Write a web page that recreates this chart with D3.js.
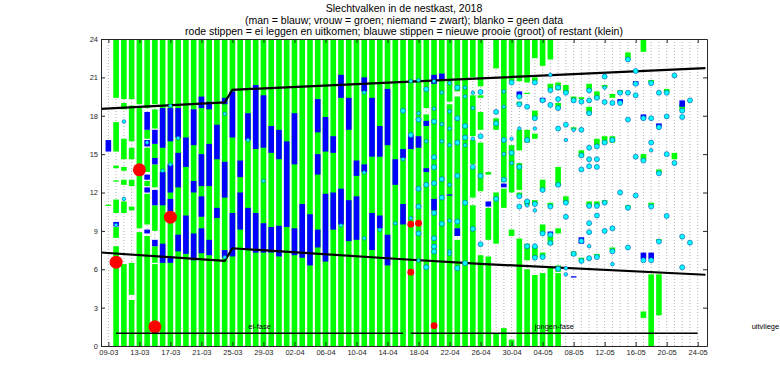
<!DOCTYPE html>
<html>
<head>
<meta charset="utf-8">
<script src="https://cdn.jsdelivr.net/npm/d3@7"></script>
<style>
  body { margin: 0; background: #fff; }
  text { font-family: "Liberation Sans", Arial, sans-serif; }
</style>
</head>
<body>
<div id="chart"></div>
<script>
// ---- data ----
var titel = [
  "Slechtvalken in de nestkast, 2018",
  "(man = blauw; vrouw = groen; niemand = zwart); blanko = geen data",
  "rode stippen = ei leggen en uitkomen; blauwe stippen = nieuwe prooie (groot) of restant (klein)"
];

var eersteDag = "09-03";
var laatsteDag = "24-05";

var tickDagen = ["09-03","13-03","17-03","21-03","25-03","29-03","02-04","06-04","10-04","14-04",
  "18-04","22-04","26-04","30-04","04-05","08-05","12-05","16-05","20-05","24-05"];
var uurTicks = [0, 3, 6, 9, 12, 15, 18, 21, 24];

// vrouw aanwezig (groen): [dag, van, tot]
var vrouw = [
  ["09-03",10.95,11.05],
  ["10-03",19.4,24],["10-03",15.2,17.5],["10-03",13.9,14.1],["10-03",12.85,12.95],["10-03",10.4,11.45],["10-03",8.45,9.3],["10-03",0,7.8],
  ["11-03",19.3,24],["11-03",18.5,19.0],["11-03",14.6,16.2],["11-03",13.7,14.0],["11-03",12.6,13.0],["11-03",10.4,11.3],["11-03",0,6.4],
  ["12-03",19.3,24],["12-03",16.0,18.8],["12-03",14.6,15.5],["12-03",12.5,13.0],["12-03",10.6,10.9],["12-03",4.0,6.5],["12-03",0,3.6],
  ["13-03",18.9,24],["13-03",9.2,18.6],["13-03",0,8.9],
  ["14-03",18.6,24],["14-03",16.2,16.9],["14-03",13.6,15.5],["14-03",12.5,12.9],["14-03",9.5,11.9],["14-03",0,8.6],
  ["15-03",18.9,24],["15-03",17.0,18.5],["15-03",14.7,15.8],["15-03",12.4,14.2],["15-03",9.0,11.0],["15-03",6.5,7.8],["15-03",0,6.4],
  ["16-03",0,24],["17-03",0,24],["18-03",0,24],["19-03",0,24],["20-03",0,24],["21-03",0,24],["22-03",0,24],
  ["23-03",0,24],["24-03",0,24],["25-03",0,24],["26-03",0,24],["27-03",0,24],["28-03",0,24],["29-03",0,24],
  ["30-03",0,24],["31-03",0,24],["01-04",0,24],["02-04",0,24],["03-04",0,24],["04-04",0,24],["05-04",0,24],
  ["06-04",0,24],["07-04",0,24],["08-04",0,24],["09-04",0,24],["10-04",0,24],["11-04",0,24],["12-04",0,24],
  ["13-04",0,24],["14-04",0,24],["15-04",0,24],["16-04",0,24],["17-04",0,24],["18-04",0,24],
  ["19-04",18.6,24],["19-04",0,18.1],
  ["20-04",0,24],["21-04",0,24],
  ["22-04",19.1,24],["22-04",0,18.9],
  ["23-04",19.9,24],["23-04",8.6,19.5],["23-04",0,8.3],
  ["24-04",0,24],
  ["25-04",21.0,24],["25-04",16.4,19.6],["25-04",14.2,16.1],["25-04",11.6,13.9],["25-04",0,11.0],
  ["26-04",20.3,24],["26-04",19.4,19.6],["26-04",16.9,18.3],["26-04",12.1,15.9],["26-04",0,7.1],
  ["27-04",13.4,13.6],["27-04",8.3,10.8],["27-04",0,7.0],
  ["28-04",21.7,24],["28-04",16.9,17.8],["28-04",8.0,12.0],["28-04",0,1.0],
  ["29-04",12.8,24],["29-04",10.8,12.3],["29-04",0,1.4],
  ["30-04",20.7,24],["30-04",12.0,15.7],["30-04",8.6,9.1],["30-04",0,0.5],
  ["01-05",20.7,24],["01-05",18.9,19.1],["01-05",15.3,16.9],["01-05",12.2,14.3],["01-05",11.7,12.0],["01-05",0,8.4],
  ["02-05",20.6,24],["02-05",19.7,19.8],["02-05",15.9,16.9],["02-05",11.0,11.4],["02-05",6.7,8.0],["02-05",0,6.0],
  ["03-05",22.5,24],["03-05",20.7,21.0],["03-05",17.8,18.4],["03-05",16.2,16.6],["03-05",11.1,11.4],["03-05",6.9,7.8],["03-05",0,5.55],
  ["04-05",21.9,24],["04-05",12.2,13.0],["04-05",8.8,9.5],["04-05",6.95,7.3],["04-05",0,5.7],
  ["05-05",22.4,24],["05-05",20.1,20.5],["05-05",10.9,11.2],["05-05",7.9,8.8],["05-05",0,6.1],
  ["06-05",20.0,20.6],["06-05",18.6,19.0],["06-05",12.5,14.0],["06-05",8.8,9.2],["06-05",5.8,6.3],["06-05",0,5.7],
  ["07-05",19.8,20.4],["07-05",11.2,11.7],
  ["08-05",19.2,19.5],["08-05",16.9,17.1],["08-05",7.05,7.4],
  ["09-05",19.3,19.45],["09-05",14.8,15.3],["09-05",6.65,6.9],
  ["10-05",20.0,20.5],["10-05",18.2,18.7],["10-05",10.9,11.3],
  ["11-05",19.3,19.9],["11-05",15.7,16.2],["11-05",10.95,11.3],["11-05",6.95,7.2],
  ["12-05",20.2,20.4],["12-05",15.8,16.4],["12-05",11.2,11.4],
  ["13-05",19.4,19.7],["13-05",15.9,16.4],["13-05",7.4,7.7],
  ["14-05",19.8,20.0],
  ["15-05",22.4,22.95],["15-05",10.8,11.0],
  ["17-05",23.0,24],["17-05",14.5,15.0],["17-05",2.2,2.7],
  ["18-05",20.55,20.8],["18-05",10.9,11.2],["18-05",0,5.6],
  ["19-05",13.5,13.8],["19-05",8.2,8.35],["19-05",2.4,5.6],
  ["20-05",19.8,20.1],
  ["21-05",14.6,15.1],
  ["22-05",18.4,18.9]
];

// man aanwezig (blauw): [dag, van, tot]
var man = [
  ["09-03",15.2,16.1],["10-03",9.35,9.7],
  ["14-03",16.9,18.3],["14-03",15.6,16.1],["14-03",13.0,13.4],["14-03",12.0,12.4],["14-03",8.8,9.1],
  ["15-03",15.8,16.9],["15-03",14.2,14.7],["15-03",11.0,12.2],["15-03",7.8,8.3],
  ["16-03",15.5,18.6],["16-03",11.0,13.6],["16-03",6.5,8.0],
  ["17-03",16.0,18.6],["17-03",12.0,14.2],["17-03",10.0,11.5],["17-03",6.5,7.0],
  ["18-03",16.3,18.6],["18-03",12.4,15.1],["18-03",7.4,8.7],
  ["19-03",14.0,16.3],["19-03",7.2,10.2],
  ["20-03",15.7,18.5],["20-03",12.0,12.9],["20-03",6.7,8.8],
  ["21-03",18.6,19.5],["21-03",12.5,15.0],["21-03",10.1,11.7],["21-03",7.25,9.2],
  ["22-03",18.5,19.1],["22-03",12.5,15.8],["22-03",7.1,8.3],
  ["23-03",14.6,17.3],["23-03",10.0,10.8],
  ["24-03",18.9,19.4],["24-03",11.6,14.4],["24-03",6.9,7.5],
  ["25-03",16.3,19.9],["25-03",7.0,10.4],
  ["26-03",13.2,14.5],["26-03",9.1,12.0],
  ["27-03",16.1,18.2],["27-03",7.5,10.8],
  ["28-03",15.4,20.4],["28-03",7.3,10.4],
  ["29-03",15.5,19.6],["29-03",7.3,9.6],
  ["30-03",15.1,17.2],["30-03",7.3,9.3],
  ["31-03",14.6,16.9],["31-03",7.0,9.4],
  ["01-04",9.3,16.0],
  ["02-04",14.2,18.2],["02-04",7.1,9.2],
  ["03-04",6.9,11.1],
  ["04-04",6.3,10.3],
  ["05-04",16.7,19.3],["05-04",13.4,15.0],["05-04",7.7,9.1],
  ["06-04",15.2,17.9],["06-04",6.6,11.9],
  ["07-04",15.1,16.4],["07-04",9.1,12.0],
  ["08-04",19.4,21.2],["08-04",9.5,12.3],
  ["09-04",16.9,19.4],["09-04",8.2,11.4],
  ["10-04",13.3,14.5],["10-04",8.3,11.7],
  ["11-04",19.9,21.0],["11-04",13.6,14.2],
  ["12-04",14.8,19.4],["12-04",7.5,10.4],
  ["13-04",14.8,17.2],["13-04",9.2,10.2],
  ["14-04",15.7,20.1],["14-04",6.3,8.7],
  ["15-04",12.6,14.6],
  ["16-04",14.7,15.4],["16-04",9.5,11.1],
  ["17-04",15.4,16.5],["18-04",15.5,16.4],
  ["19-04",13.6,13.9],["19-04",17.2,17.6],
  ["20-04",20.5,21.2],["20-04",10.6,11.5],
  ["21-04",20.8,21.3],["22-04",11.75,11.85],["23-04",8.6,9.2],
  ["27-04",10.9,11.3],["29-04",12.4,12.7],
  ["01-05",19.45,19.9],["04-05",19.1,19.4],["05-05",8.77,8.95],
  ["08-05",5.35,5.45],["09-05",8.0,8.5],["14-05",19.0,19.3],["16-05",20.4,20.7],
  ["17-05",17.75,18.1],["17-05",6.8,7.3],["18-05",6.8,7.3],["19-05",17.1,17.4],["22-05",18.7,19.2]
];

// prooi: [dag, uur, groot (1) of restant (0)]
var prooi = [
  ["10-03",9.45,0],["11-03",17.55,0],["11-03",11.5,0],["14-03",15.9,0],["16-03",13.7,0],
  ["17-03",18.78,0],["17-03",14.2,0],["18-03",16.25,0],["24-03",18.15,0],["24-03",6.94,0],
  ["27-03",16.1,0],["29-03",12.9,0],["08-04",9.42,0],["11-04",19.82,0],["11-04",13.56,0],["11-04",8.42,0],
  ["13-04",9.08,0],["15-04",9.6,0],["16-04",18.39,1],["16-04",14.6,0],
  ["17-04",20.7,0],["17-04",16.5,1],["17-04",10.0,0],
  ["18-04",20.77,0],["18-04",18.2,0],["18-04",17.7,1],["18-04",12.3,1],["18-04",10.9,1],["18-04",8.8,1],["18-04",6.68,0],
  ["19-04",20.08,1],["19-04",16.0,0],["19-04",12.6,1],["19-04",6.16,1],
  ["20-04",20.7,0],["20-04",18.55,0],["20-04",17.55,1],["20-04",14.76,1],["20-04",13.98,1],["20-04",12.73,1],
  ["20-04",10.4,1],["20-04",8.42,1],["20-04",7.77,1],["20-04",7.38,1],
  ["21-04",19.82,0],["21-04",17.34,0],["21-04",16.0,0],["21-04",13.04,1],["21-04",11.6,1],["21-04",9.55,1],
  ["22-04",20.55,0],["22-04",18.34,0],["22-04",17.0,0],["22-04",15.7,0],["22-04",12.6,0],["22-04",9.8,0],["22-04",7.38,0],["22-04",7.2,0],
  ["23-04",20.2,1],["23-04",17.8,1],["23-04",15.9,1],["23-04",13.3,1],["23-04",9.73,1],["23-04",6.08,1],
  ["24-04",20.2,0],["24-04",19.5,0],["24-04",17.2,1],["24-04",16.3,1],["24-04",15.7,0],["24-04",11.2,1],["24-04",6.47,1],
  ["25-04",19.8,0],["25-04",18.6,0],["25-04",16.2,0],["25-04",14.0,1],["25-04",9.16,1],
  ["26-04",19.86,1],["26-04",16.4,1],["26-04",13.3,1],["26-04",7.95,1],
  ["28-04",18.3,1],["28-04",17.4,1],["28-04",11.5,1],
  ["29-04",19.9,0],["29-04",18.7,0],["29-04",16.1,1],["29-04",15.0,0],["29-04",13.0,1],
  ["30-04",20.6,1],["30-04",16.2,0],["30-04",15.1,1],["30-04",14.3,0],
  ["01-05",19.5,1],["01-05",18.9,1],["01-05",17.0,0],["01-05",14.0,1],["01-05",11.7,1],["01-05",10.9,1],
  ["02-05",18.7,1],["02-05",16.1,1],["02-05",11.3,1],["02-05",11.0,0],["02-05",7.8,1],
  ["03-05",20.6,1],["03-05",17.8,1],["03-05",17.0,0],["03-05",11.1,1],["03-05",10.6,0],["03-05",7.8,1],["03-05",6.9,1],
  ["04-05",19.2,1],["04-05",12.2,1],["04-05",8.8,1],["04-05",6.95,1],
  ["05-05",21.2,0],["05-05",20.0,1],["05-05",18.85,1],["05-05",10.9,1],["05-05",8.7,1],["05-05",8.05,1],
  ["06-05",20.2,1],["06-05",19.3,1],["06-05",18.6,1],["06-05",17.0,1],["06-05",12.6,1],["06-05",6.04,1],
  ["07-05",19.8,1],["07-05",17.3,1],["07-05",16.1,0],["07-05",11.2,1],["07-05",10.1,1],["07-05",6.08,0],["07-05",5.6,0],
  ["08-05",19.2,1],["08-05",16.9,0],["08-05",7.2,1],
  ["09-05",19.1,1],["09-05",16.9,1],["09-05",14.9,1],["09-05",13.8,1],["09-05",8.2,1],["09-05",6.65,1],
  ["10-05",19.98,1],["10-05",19.2,1],["10-05",18.2,1],["10-05",15.5,1],["10-05",14.6,1],["10-05",14.05,1],
  ["10-05",10.95,1],["10-05",9.6,1],["10-05",8.9,1],["10-05",7.8,0],["10-05",6.86,1],
  ["11-05",19.4,1],["11-05",15.6,1],["11-05",14.6,1],["11-05",14.0,1],["11-05",10.95,1],["11-05",10.2,1],["11-05",6.95,1],
  ["12-05",21.06,1],["12-05",20.2,0],["12-05",19.07,1],["12-05",15.9,1],["12-05",11.2,1],["12-05",9.0,1],
  ["13-05",19.0,1],["13-05",16.1,1],["13-05",9.2,1],["13-05",7.4,1],["13-05",6.4,0],
  ["14-05",19.8,1],["14-05",19.0,1],["14-05",12.0,1],
  ["15-05",22.4,1],["15-05",19.8,1],["15-05",17.7,1],["15-05",10.8,1],["15-05",7.7,1],
  ["16-05",21.5,1],["16-05",20.5,1],["16-05",19.6,1],["16-05",14.8,1],["16-05",11.76,1],
  ["17-05",17.8,1],["17-05",14.5,1],["17-05",6.7,1],
  ["18-05",20.55,1],["18-05",17.8,1],["18-05",15.9,1],["18-05",15.3,0],["18-05",10.9,1],["18-05",6.7,1],
  ["19-05",19.8,1],["19-05",17.1,1],["19-05",13.5,1],["19-05",8.16,1],
  ["20-05",19.8,1],["20-05",17.95,1],["20-05",15.0,1],["20-05",10.17,1],
  ["21-05",21.15,1],["21-05",14.3,1],
  ["22-05",18.4,1],["22-05",17.9,1],["22-05",8.55,1],["22-05",6.15,1],
  ["23-05",19.2,1],["23-05",8.08,1]
];

// eieren: leggen (groot) en uitkomen (klein): [dag, uur, groot]
var eieren = [
  ["10-03",6.55,1],["13-03",13.77,1],["15-03",1.5,1],["17-03",10.07,1],
  ["17-04",9.52,0],["18-04",9.6,0],["17-04",5.77,0],["20-04",1.59,0]
];

// zonsopkomst en zonsondergang (uur)
var zonOpDagen = ["08-03","24-03","25-03","16-04","26-04","25-05"];
var zonOp      = [7.31, 6.65, 7.64, 6.78, 6.42, 5.57];
var zonOnderDagen = ["08-03","24-03","25-03","26-04","25-05"];
var zonOnder      = [18.53, 19.04, 20.03, 20.92, 21.73];

// fasen
var fasen = [
  {naam: "ei-fase", van: "10-03", tot: "16-04"},
  {naam: "jongen-fase", van: "17-04", tot: "24-05"}
];
var fase3 = "uitvliege"; // zo ver als het in de figuur te zien is

// ---- layout ----
var svgWidth = 780;
var svgHeight = 389;
var margin = {top: 39, right: 73, bottom: 43, left: 101};
var width = svgWidth - margin.left - margin.right;
var height = svgHeight - margin.top - margin.bottom;
var DAG = 864e5;

function dag(s) {
  var p = s.split("-");
  return new Date(Date.UTC(2018, +p[1] - 1, +p[0]));
}

var svg = d3.select("#chart").append("svg")
  .attr("width", svgWidth)
  .attr("height", svgHeight);

var x = d3.scaleUtc()
  .domain([new Date(+dag(eersteDag) - 0.95 * DAG), new Date(+dag(laatsteDag) + 1.2 * DAG)])
  .range([0, width]);
var y = d3.scaleLinear().domain([0, 24]).range([height, 0]);

var chartGroup = svg.append("g")
  .attr("transform", `translate(${margin.left}, ${margin.top})`);

chartGroup.append("clipPath").attr("id", "clip")
  .append("rect").attr("width", width).attr("height", height);

var alleDagen = d3.utcDay.range(dag(eersteDag), new Date(+dag(laatsteDag) + DAG));

// blanko: grijze stippellijnen per dag
chartGroup.selectAll(".blanko")
  .data(alleDagen)
  .enter().append("line")
  .attr("x1", d => x(d)).attr("x2", d => x(d))
  .attr("y1", y(0)).attr("y2", y(24))
  .attr("stroke", "#b4b4b4")
  .attr("stroke-width", 1)
  .attr("stroke-dasharray", "1,2");

var bw = 5.6;
function blokken(data, kleur) {
  chartGroup.append("g").selectAll("rect")
    .data(data)
    .enter().append("rect")
    .attr("x", d => x(dag(d[0])) - bw / 2)
    .attr("width", bw)
    .attr("y", d => y(d[2]))
    .attr("height", d => Math.max(0.8, y(d[1]) - y(d[2])))
    .attr("fill", kleur);
}
blokken(vrouw, "#00ff00");
blokken(man, "#0000ff");

// zon-lijnen
var zonLijn = d3.line().x(d => x(dag(d[0]))).y(d => y(d[1]));
chartGroup.append("g").attr("clip-path", "url(#clip)")
  .selectAll("path")
  .data([d3.zip(zonOpDagen, zonOp), d3.zip(zonOnderDagen, zonOnder)])
  .enter().append("path")
  .attr("d", zonLijn)
  .attr("fill", "none")
  .attr("stroke", "#000")
  .attr("stroke-width", 2.2);

// prooi
chartGroup.append("g").selectAll("circle")
  .data(prooi)
  .enter().append("circle")
  .attr("cx", d => x(dag(d[0])))
  .attr("cy", d => y(d[1]))
  .attr("r", d => d[2] ? 2.5 : 1.8)
  .attr("fill", "#00ffff")
  .attr("stroke", "#1060c0")
  .attr("stroke-width", 0.7);

// eieren
chartGroup.append("g").selectAll("circle")
  .data(eieren)
  .enter().append("circle")
  .attr("cx", d => x(dag(d[0])))
  .attr("cy", d => y(d[1]))
  .attr("r", d => d[2] ? 6.5 : 3.4)
  .attr("fill", "#ff0000");

// fasen
var faseGroup = chartGroup.append("g");
fasen.forEach(function(f) {
  faseGroup.append("line")
    .attr("x1", x(dag(f.van))).attr("x2", x(dag(f.tot)))
    .attr("y1", y(1)).attr("y2", y(1))
    .attr("stroke", "#000").attr("stroke-width", 1.6);
  faseGroup.append("text")
    .attr("x", (x(dag(f.van)) + x(dag(f.tot))) / 2)
    .attr("y", y(1) - 4)
    .attr("text-anchor", "middle")
    .attr("font-size", "7.5px")
    .text(f.naam);
});
faseGroup.append("text")
  .attr("x", x(dag(laatsteDag)) + 54)
  .attr("y", y(1) - 4)
  .attr("font-size", "7.5px")
  .text(fase3);

// assen
var bottomAxis = d3.axisBottom(x)
  .tickValues(tickDagen.map(dag))
  .tickFormat(d3.utcFormat("%d-%m"))
  .tickSizeInner(-4).tickSizeOuter(0).tickPadding(4);
var topAxis = d3.axisTop(x)
  .tickValues(tickDagen.map(dag))
  .tickFormat("")
  .tickSizeInner(-4).tickSizeOuter(0);
var leftAxis = d3.axisLeft(y).tickValues(uurTicks)
  .tickSizeInner(-4).tickSizeOuter(0).tickPadding(3);
var rightAxis = d3.axisRight(y).tickValues(uurTicks)
  .tickFormat("")
  .tickSizeInner(-4).tickSizeOuter(0);

function styleAxis(g) {
  g.select(".domain").attr("stroke", "#262626");
  g.selectAll(".tick line").attr("stroke", "#262626");
  g.selectAll(".tick text").attr("font-size", "7.5px").attr("fill", "#262626")
    .attr("font-family", '"Liberation Sans", Arial, sans-serif');
}

chartGroup.append("g").attr("transform", `translate(0, ${height})`).call(bottomAxis).call(styleAxis);
chartGroup.append("g").call(topAxis).call(styleAxis);
chartGroup.append("g").call(leftAxis).call(styleAxis);
chartGroup.append("g").attr("transform", `translate(${width}, 0)`).call(rightAxis).call(styleAxis);

// titel
svg.append("g").selectAll("text")
  .data(titel)
  .enter().append("text")
  .attr("x", margin.left + width / 2)
  .attr("y", (d, i) => 12 + i * 11.7)
  .attr("text-anchor", "middle")
  .attr("font-size", "10.5px")
  .attr("fill", "#000")
  .text(d => d);
</script>
</body>
</html>
